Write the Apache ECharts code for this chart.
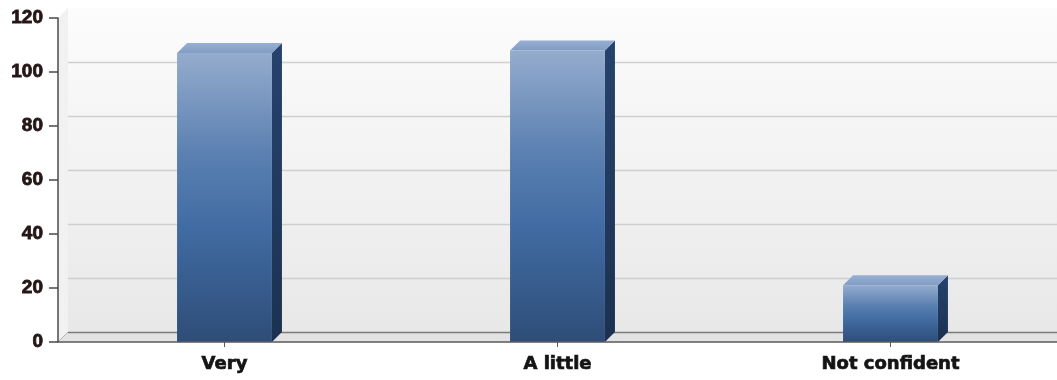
<!DOCTYPE html>
<html>
<head>
<meta charset="utf-8">
<script src="https://cdn.jsdelivr.net/npm/echarts@6/dist/echarts.min.js"></script>
<style>
  html, body { margin: 0; padding: 0; background: #ffffff; }
  #chart { width: 1057px; height: 380px; }
</style>
</head>
<body>
<div id="chart"></div>
<script>
// Survey answers and counts
const categories = ['Very', 'A little', 'Not confident'];
const responses = [107, 108, 21];
const yTicks = [0, 20, 40, 60, 80, 100, 120];

// Pseudo-3D depth (px) of the walls and the bars
const DEPTH = 10;

const chart = echarts.init(document.getElementById('chart'), null, { renderer: 'canvas' });
const LG = echarts.graphic.LinearGradient;

const frontGrad = new LG(0, 0, 0, 1, [
  { offset: 0, color: '#94accd' },
  { offset: 0.35, color: '#5b80b1' },
  { offset: 0.6, color: '#416ca3' },
  { offset: 1, color: '#2e4d78' }
]);
const topGrad = new LG(0, 1, 0, 0, [
  { offset: 0, color: '#819dc5' },
  { offset: 1, color: '#97afd1' }
]);
const sideGrad = new LG(0, 0, 0, 1, [
  { offset: 0, color: '#26436d' },
  { offset: 1, color: '#1c3150' }
]);
const wallGrad = new LG(0, 0, 0, 1, [
  { offset: 0, color: '#fcfcfc' },
  { offset: 1, color: '#e8e8e8' }
]);

// Back wall, side wall, floor and the wall grid lines
function renderScene(params, api) {
  const cs = params.coordSys;
  const d = DEPTH;
  const x = cs.x, y = cs.y, w = cs.width, h = cs.height;
  const children = [
    { type: 'rect', shape: { x: x + d, y: y - d, width: w + 40, height: h },
      style: { fill: wallGrad } },
    { type: 'polygon', shape: { points: [[x, y], [x + d, y - d], [x + d, y + h - d], [x, y + h]] },
      style: { fill: '#f1f1f1' } },
    { type: 'polygon', shape: { points: [[x, y + h], [x + d, y + h - d], [x + w + 40, y + h - d], [x + w + 40, y + h]] },
      style: { fill: '#e3e3e3' } },
    { type: 'line', shape: { x1: x + 1, y1: y + h - 1, x2: x + d, y2: y + h - d },
      style: { stroke: '#b5b5b5', lineWidth: 1 } }
  ];
  yTicks.forEach(function (t) {
    if (t === 0 || t === yTicks[yTicks.length - 1]) return;
    const py = Math.round(api.coord([0, t])[1] - d) + 0.5;
    children.push({ type: 'line', shape: { x1: x + d, y1: py, x2: x + w + 40, y2: py },
      style: { stroke: '#cfcfcf', lineWidth: 1.5 } });
  });
  const fy = Math.round(api.coord([0, 0])[1] - d) + 0.5;
  children.push({ type: 'line', shape: { x1: x + d, y1: fy, x2: x + w + 40, y2: fy },
    style: { stroke: '#7a7a7a', lineWidth: 1.5 } });
  return { type: 'group', children: children };
}

// One extruded bar: side face, top face, front face
function renderBar(params, api) {
  const i = api.value(0), v = api.value(1);
  const top = api.coord([i, v]);
  const base = api.coord([i, 0]);
  const w = api.size([1, 0])[0] * 0.285;
  const x0 = top[0] - w / 2, x1 = top[0] + w / 2;
  const y0 = top[1], y1 = base[1];
  const d = DEPTH;
  return {
    type: 'group',
    children: [
      { type: 'polygon', shape: { points: [[x1, y0], [x1 + d, y0 - d], [x1 + d, y1 - d], [x1, y1]] },
        style: { fill: sideGrad } },
      { type: 'polygon', shape: { points: [[x0, y0], [x0 + d, y0 - d], [x1 + d, y0 - d], [x1, y0]] },
        style: { fill: topGrad } },
      { type: 'rect', shape: { x: x0, y: y0, width: w, height: y1 - y0 },
        style: { fill: frontGrad } }
    ]
  };
}

chart.setOption({
  animation: false,
  backgroundColor: '#ffffff',
  grid: { left: 58, right: -3, top: 18, bottom: 38, containLabel: false },
  xAxis: {
    type: 'category',
    data: categories,
    z: 5,
    axisLine: { show: true, lineStyle: { color: '#5a5a5a', width: 1.5 } },
    axisTick: { show: true, alignWithLabel: true, length: 5, lineStyle: { color: '#5a5a5a' } },
    axisLabel: {
      margin: 13, color: '#141414', fontFamily: 'DejaVu Sans', fontWeight: 'bold', fontSize: 18,
      textBorderColor: '#141414', textBorderWidth: 0.7
    },
    splitLine: { show: false }
  },
  yAxis: {
    type: 'value',
    min: 0, max: 120, interval: 20,
    z: 5,
    axisLine: { show: true, lineStyle: { color: '#4a4a4a', width: 1.5 } },
    axisTick: { show: true, length: 9, lineStyle: { color: '#4a4a4a', width: 1.5 } },
    axisLabel: {
      margin: 15, color: '#241616', fontFamily: 'Liberation Sans', fontWeight: 'bold', fontSize: 19,
      textBorderColor: '#241616', textBorderWidth: 0.8
    },
    splitLine: { show: false }
  },
  series: [
    {
      type: 'custom',
      z: 1,
      silent: true,
      renderItem: renderScene,
      data: [[0, 0]]
    },
    {
      type: 'custom',
      z: 2,
      renderItem: renderBar,
      encode: { x: 0, y: 1 },
      data: responses.map(function (v, i) { return [i, v]; })
    }
  ]
});
</script>
</body>
</html>
